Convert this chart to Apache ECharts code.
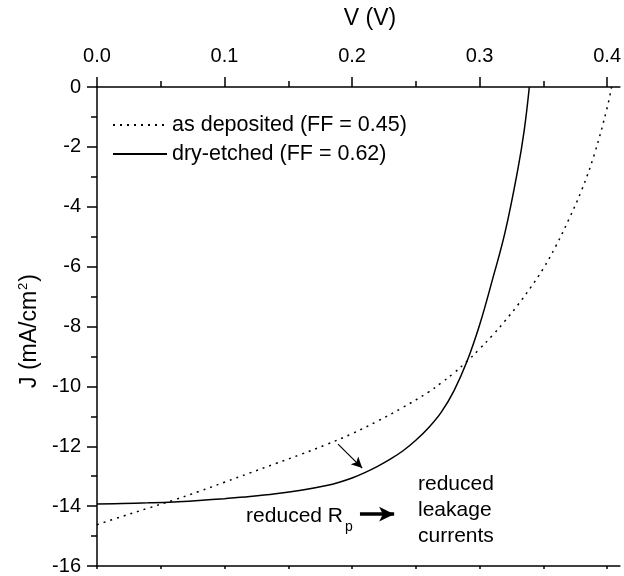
<!DOCTYPE html>
<html>
<head>
<meta charset="utf-8">
<script src="https://cdn.jsdelivr.net/npm/echarts@6/dist/echarts.min.js"></script>
<style>
  html, body { margin: 0; padding: 0; background: #fff; overflow: hidden; }
  #chart { width: 624px; height: 576px; }
</style>
</head>
<body>
<div id="chart"></div>
<script>
// J–V curves of the as-deposited and dry-etched cells
const depositedV = [0, 0.02, 0.04, 0.06, 0.08, 0.10, 0.12, 0.14, 0.16, 0.18, 0.20, 0.22, 0.24, 0.26, 0.27, 0.28, 0.29, 0.30, 0.31, 0.32, 0.33, 0.34, 0.35, 0.36, 0.37, 0.38, 0.39, 0.40, 0.4035];
const depositedJ = [-14.62, -14.34, -14.07, -13.80, -13.51, -13.20, -12.89, -12.58, -12.27, -11.94, -11.58, -11.16, -10.70, -10.19, -9.88, -9.55, -9.17, -8.75, -8.30, -7.81, -7.28, -6.70, -6.06, -5.30, -4.42, -3.45, -2.25, -0.70, 0];

const etchedV = [0, 0.02, 0.04, 0.06, 0.08, 0.10, 0.12, 0.14, 0.16, 0.18, 0.19, 0.20, 0.21, 0.22, 0.23, 0.24, 0.25, 0.26, 0.27, 0.28, 0.29, 0.30, 0.31, 0.32, 0.33, 0.335, 0.339];
const etchedJ = [-13.93, -13.91, -13.89, -13.86, -13.81, -13.75, -13.68, -13.59, -13.47, -13.31, -13.20, -13.06, -12.88, -12.67, -12.43, -12.15, -11.80, -11.38, -10.86, -10.14, -9.18, -7.95, -6.45, -4.85, -2.75, -1.45, 0];

const seriesNames = ['as deposited (FF = 0.45)', 'dry-etched (FF = 0.62)'];

// axis ticks
const xMajorTicks = [0, 0.1, 0.2, 0.3, 0.4];
const xMinorTicks = [0.05, 0.15, 0.25, 0.35];
const xBottomTicks = [0, 0.05, 0.1, 0.15, 0.2, 0.25, 0.3, 0.35, 0.4];
const X_MIN = 0, X_MAX = 0.41;
const Y_MIN = -16, Y_MAX = 0, Y_STEP = 2;

// annotation arrows, in data units [V, J]
const thinArrow = [[0.189, -11.93], [0.208, -12.73]];
const thickArrow = [[0.2062, -14.27], [0.2330, -14.27]];

const FONT = '"Liberation Sans", Arial, Helvetica, sans-serif';
const INK = '#000';

const toPairs = (xs, ys) => xs.map((x, i) => [x, ys[i]]);

const chart = echarts.init(document.getElementById('chart'), null, { renderer: 'canvas' });

const axisLineStyle = { color: INK, width: 1.5 };

chart.setOption({
  animation: false,
  backgroundColor: '#fff',
  grid: { left: 97, right: 0, top: 87, bottom: 9, containLabel: false },
  legend: {
    orient: 'vertical',
    left: 112,
    top: 114,
    padding: 0,
    itemWidth: 54,
    itemHeight: 20,
    itemGap: 7,
    selectedMode: false,
    data: seriesNames,
    itemStyle: { opacity: 0 },
    textStyle: { fontFamily: FONT, fontSize: 21.5, color: INK, lineHeight: 20 }
  },
  xAxis: [
    {
      type: 'value', position: 'top', min: X_MIN, max: X_MAX, interval: 0.1,
      axisLine: { onZero: false, lineStyle: axisLineStyle },
      axisTick: { customValues: xMajorTicks, length: 10, lineStyle: axisLineStyle },
      axisLabel: {
        customValues: xMajorTicks, margin: 21, color: INK, fontFamily: FONT, fontSize: 20,
        formatter: v => v.toFixed(1)
      },
      splitLine: { show: false }
    },
    {
      type: 'value', position: 'top', min: X_MIN, max: X_MAX,
      axisLine: { show: false, onZero: false },
      axisTick: { customValues: xMinorTicks, length: 6, lineStyle: axisLineStyle },
      axisLabel: { show: false },
      splitLine: { show: false }
    },
    {
      type: 'value', position: 'bottom', min: X_MIN, max: X_MAX,
      axisLine: { onZero: false, lineStyle: axisLineStyle },
      axisTick: { customValues: xBottomTicks, length: 3, lineStyle: axisLineStyle },
      axisLabel: { show: false },
      splitLine: { show: false }
    }
  ],
  yAxis: {
    type: 'value', min: Y_MIN, max: Y_MAX, interval: Y_STEP,
    axisLine: { onZero: false, lineStyle: axisLineStyle },
    axisTick: { length: 10, lineStyle: axisLineStyle },
    minorTick: { show: true, splitNumber: 2, length: 6, lineStyle: axisLineStyle },
    axisLabel: { margin: 16, color: INK, fontFamily: FONT, fontSize: 20 },
    splitLine: { show: false },
    minorSplitLine: { show: false }
  },
  series: [
    {
      name: seriesNames[0],
      type: 'line',
      xAxisIndex: 0,
      data: toPairs(depositedV, depositedJ),
      symbol: 'none',
      smooth: 0.4,
      color: INK,
      lineStyle: { color: INK, width: 1.5, type: [2, 5] }
    },
    {
      name: seriesNames[1],
      type: 'line',
      xAxisIndex: 0,
      data: toPairs(etchedV, etchedJ),
      symbol: 'none',
      smooth: 0.4,
      color: INK,
      lineStyle: { color: INK, width: 1.5, type: 'solid' },
      markLine: {
        silent: true,
        animation: false,
        symbol: ['none', 'arrow'],
        symbolSize: [8, 11],
        label: { show: false },
        lineStyle: { color: INK, width: 1.2, type: 'solid' },
        emphasis: { disabled: true },
        data: [
          [
            { coord: thinArrow[0] },
            { coord: thinArrow[1] }
          ],
          [
            { coord: thickArrow[0], lineStyle: { width: 3.5, color: INK, type: 'solid' } },
            { coord: thickArrow[1], symbolSize: [11, 15] }
          ]
        ]
      }
    }
  ],
  graphic: [
    {
      type: 'text', x: 370, y: 19,
      style: { text: 'V (V)', fontFamily: FONT, fontSize: 23, fill: INK, align: 'center', verticalAlign: 'middle' }
    },
    {
      type: 'text', x: 30, y: 331, rotation: Math.PI / 2,
      style: {
        text: '{b|J (mA/cm}{s|2}{b|)}',
        align: 'center', verticalAlign: 'middle',
        rich: {
          b: { fontFamily: FONT, fontSize: 23, fill: INK, lineHeight: 26 },
          s: { fontFamily: FONT, fontSize: 13, fill: INK, lineHeight: 13, verticalAlign: 'top', padding: [0, 1, 0, 1] }
        }
      }
    },
    {
      type: 'text', x: 343, y: 516,
      style: { text: 'reduced R', fontFamily: FONT, fontSize: 21, fill: INK, align: 'right', verticalAlign: 'middle' }
    },
    {
      type: 'text', x: 345, y: 527,
      style: { text: 'p', fontFamily: FONT, fontSize: 14, fill: INK, align: 'left', verticalAlign: 'middle' }
    },
    {
      type: 'text', x: 418, y: 484,
      style: { text: 'reduced', fontFamily: FONT, fontSize: 21, fill: INK, align: 'left', verticalAlign: 'middle' }
    },
    {
      type: 'text', x: 418, y: 510,
      style: { text: 'leakage', fontFamily: FONT, fontSize: 21, fill: INK, align: 'left', verticalAlign: 'middle' }
    },
    {
      type: 'text', x: 418, y: 536,
      style: { text: 'currents', fontFamily: FONT, fontSize: 21, fill: INK, align: 'left', verticalAlign: 'middle' }
    }
  ]
});
</script>
</body>
</html>
